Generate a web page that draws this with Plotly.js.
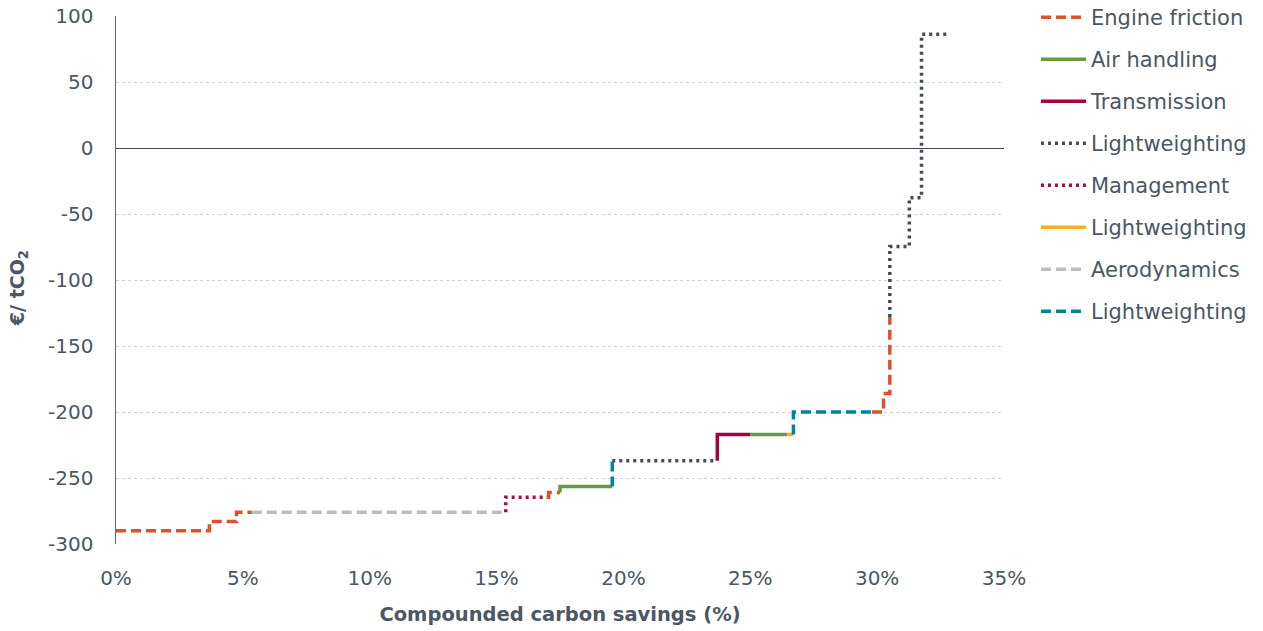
<!DOCTYPE html>
<html>
<head>
<meta charset="utf-8">
<script src="https://cdn.plot.ly/plotly-3.0.1.min.js"></script>
<style>html,body{margin:0;padding:0;background:#fff;}#chart{width:1263px;height:631px;}</style>
</head>
<body>
<div id="chart"></div>
<script>
// Compounded carbon savings (%) and cost (EUR / tCO2), step segments; null separates segments
const engineX = [0, 3.68, 3.68, 4.75, 4.75, 5.35, null, 16.97, 17.05, 17.05, 17.5, null, 29.8, 30.25, 30.25, 30.5, 30.5];
const engineY = [-290, -290, -283, -283, -276, -276, null, -264.6, -264.6, -261, -261, null, -200, -200, -186, -186, -128];
const airX = [17.5, 17.5, 19.56, null, 25.0, 26.46];
const airY = [-261, -256.5, -256.5, null, -217, -217];
const transX = [23.7, 23.7, 25.0];
const transY = [-237, -217, -217];
const lwDarkX = [19.56, 23.7, null, 30.5, 30.5, 31.27, 31.27, 31.75, 31.75, 32.85];
const lwDarkY = [-237, -237, null, -128, -74.7, -74.7, -37.6, -37.6, 86.1, 86.1];
const mgmtX = [15.36, 15.36, 16.97];
const mgmtY = [-276, -264.6, -264.6];
const lwYellowX = [26.46, 26.7];
const lwYellowY = [-217, -217];
const aeroX = [5.35, 15.36];
const aeroY = [-276, -276];
const lwTealX = [19.56, 19.56, null, 26.7, 26.7, 29.8];
const lwTealY = [-256.5, -237, null, -217, -200, -200];

const names = ["Engine friction", "Air handling", "Transmission", "Lightweighting", "Management", "Lightweighting", "Aerodynamics", "Lightweighting"];
const yTickVals = [100, 50, 0, -50, -100, -150, -200, -250, -300];
const yTickText = ["100", "50", "0", "-50", "-100", "-150", "-200", "-250", "-300"];
const xTickVals = [0, 5, 10, 15, 20, 25, 30, 35];
const xTickText = ["0%", "5%", "10%", "15%", "20%", "25%", "30%", "35%"];
const yTitle = '€/ tCO<sub>2</sub>';
const xTitle = 'Compounded carbon savings (%)';

const seriesX = [engineX, airX, transX, lwDarkX, mgmtX, lwYellowX, aeroX, lwTealX];
const seriesY = [engineY, airY, transY, lwDarkY, mgmtY, lwYellowY, aeroY, lwTealY];
const colors = ["#e0502a", "#6b9a3c", "#a5003f", "#414c57", "#9b1045", "#f3b024", "#b9bdc0", "#00849b"];
const dashes = ["10px,5px", "solid", "solid", "3px,4px", "3px,4px", "solid", "10px,5px", "10px,5px"];

const traces = names.map((n, i) => ({
  x: seriesX[i], y: seriesY[i], name: n, type: 'scatter', mode: 'lines',
  connectgaps: false, legendgroup: 'g' + i,
  line: {color: colors[i], width: 3.5, dash: dashes[i]},
  hoverinfo: 'skip'
}));

const txt = '#4b5762';
const fam = 'DejaVu Sans, sans-serif';
const layout = {
  width: 1263, height: 631,
  margin: {l: 116, r: 259, t: 16, b: 87, autoexpand: false},
  paper_bgcolor: '#fff', plot_bgcolor: '#fff',
  font: {family: fam, color: txt, size: 20},
  showlegend: true,
  legend: {x: 1.036, xanchor: 'left', y: 1.036, yanchor: 'top', font: {size: 21, color: txt, family: fam},
           tracegroupgap: 11.7, itemwidth: 45, bgcolor: 'rgba(0,0,0,0)', maxheight: 600},
  xaxis: {range: [0, 35], tickvals: xTickVals, ticktext: xTickText, showgrid: false, zeroline: false,
          showline: false, ticks: '', ticklabelstandoff: 20, tickfont: {size: 20, color: txt, family: fam},
          title: {text: xTitle, font: {size: 19.5, color: txt, family: fam, weight: 'bold'}, standoff: 18}},
  yaxis: {range: [-300, 100], tickvals: yTickVals, ticktext: yTickText, showgrid: true,
          gridcolor: '#cfd2d5', griddash: 'dot', gridwidth: 1,
          zeroline: true, zerolinecolor: '#3d4852', zerolinewidth: 1,
          showline: true, linecolor: '#5c6670', linewidth: 1.5, ticks: '', ticklabelstandoff: 17,
          tickfont: {size: 20, color: txt, family: fam}},
  annotations: [{
    text: yTitle, xref: 'paper', yref: 'paper', x: -0.109, y: 0.485, xanchor: 'center', yanchor: 'middle',
    textangle: -90, showarrow: false, font: {size: 19, color: txt, family: fam, weight: 'bold'}
  }]
};

Plotly.newPlot('chart', traces, layout, {displayModeBar: false, staticPlot: true});
</script>
</body>
</html>
